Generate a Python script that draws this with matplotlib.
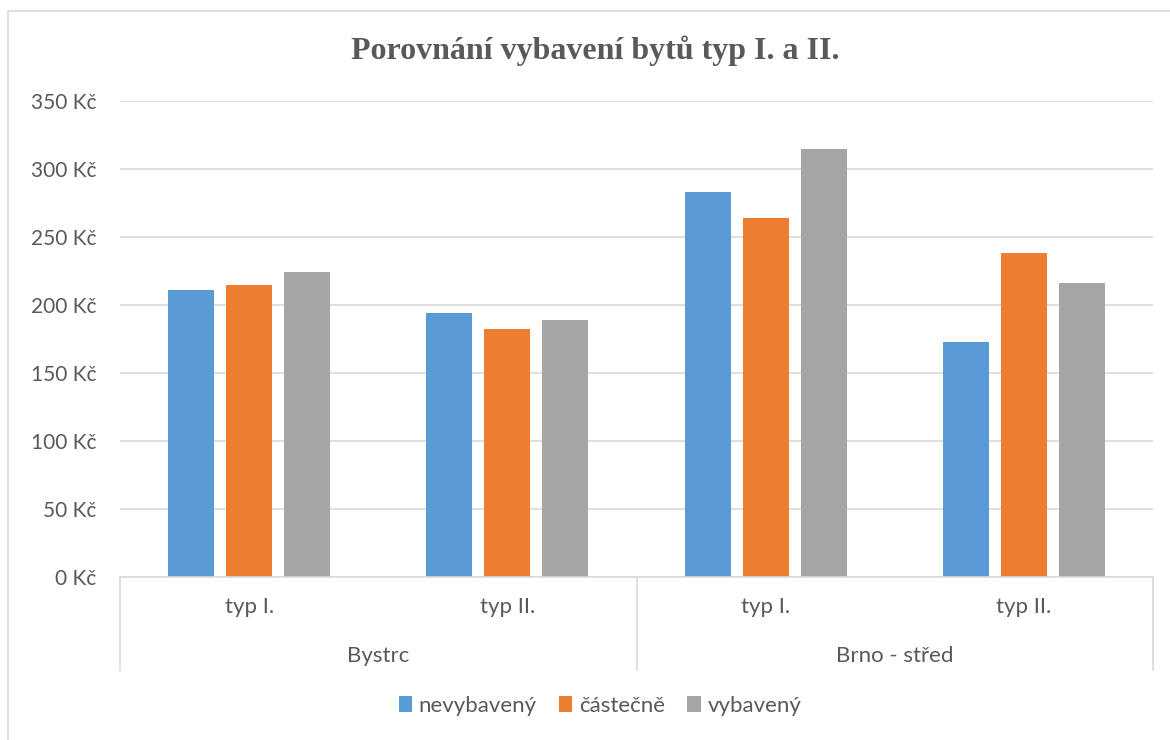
import matplotlib.pyplot as plt
from matplotlib.patches import Rectangle
from matplotlib.lines import Line2D

# data
groups = ["Bystrc", "Brno - střed"]
types = ["typ I.", "typ II.", "typ I.", "typ II."]
series_names = ["nevybavený", "částečně", "vybavený"]
nevybaveny = [211, 194, 283, 173]
castecne = [215, 182, 264, 238]
vybaveny = [224, 189, 315, 216]
colors = ["#5B9BD5", "#ED7D31", "#A5A5A5"]

plt.rcParams['font.family'] = ['Lato', 'DejaVu Sans']
text_color = "#595959"
line_color = "#D9D9D9"

fig = plt.figure(figsize=(11.7, 7.4), dpi=100)
W, H = 1170, 740

# outer chart border (right and bottom edges fall outside the picture)
fig.patches.append(Rectangle((8 / W, -0.1), 1.2, 1.1 - 11 / H,
                             transform=fig.transFigure, fill=False,
                             edgecolor=line_color, linewidth=1.2))

ax = fig.add_axes([120 / W, 1 - 577 / H, (1153 - 120) / W, (577 - 101) / H])

x = range(len(types))
width = 0.178
offset = 0.2246
for i, (vals, name) in enumerate(zip([nevybaveny, castecne, vybaveny], series_names)):
    ax.bar([xi + (i - 1) * offset for xi in x], vals, width=width,
           color=colors[i], label=name, zorder=3)

ax.set_xlim(-0.5, 3.5)
ax.set_ylim(0, 350)
ax.set_yticks(range(0, 351, 50))
ax.set_yticklabels([f"{v} Kč" for v in range(0, 351, 50)])
ax.yaxis.grid(True, color=line_color, linewidth=1.2, zorder=0)
ax.tick_params(axis='y', length=0, pad=17, labelsize=15, labelcolor=text_color)
ax.set_xticks([])
for s in ["top", "right", "left"]:
    ax.spines[s].set_visible(False)
ax.spines["bottom"].set_color(line_color)
ax.spines["bottom"].set_linewidth(1.2)
ax.spines["bottom"].set_zorder(4)

# category labels (two levels)
trans = ax.get_xaxis_transform()
for xi, t in zip(x, types):
    ax.text(xi, -30 / 476, t, transform=trans, ha="center", va="center",
            fontsize=16, color=text_color)
for gi, g in enumerate(groups):
    ax.text(gi * 2 + 0.5, -79 / 476, g, transform=trans, ha="center", va="center",
            fontsize=16, color=text_color)
for xb in [-0.5, 1.5, 3.5]:
    ax.add_line(Line2D([xb, xb], [0, -93 / 476], transform=trans, color=line_color,
                       linewidth=1.2, clip_on=False))

fig.text(595 / W, 1 - 51 / H, "Porovnání vybavení bytů typ I. a II.", ha="center",
         va="center", fontsize=23, fontweight="bold", color=text_color,
         family="Liberation Serif")

fig.legend(loc="center", bbox_to_anchor=(600 / W, 1 - 706 / H), ncol=3, frameon=False,
           fontsize=16, labelcolor=text_color, handlelength=0.6, handleheight=0.75,
           handletextpad=0.3, columnspacing=1.0)

fig.savefig("out.png", dpi=100)
